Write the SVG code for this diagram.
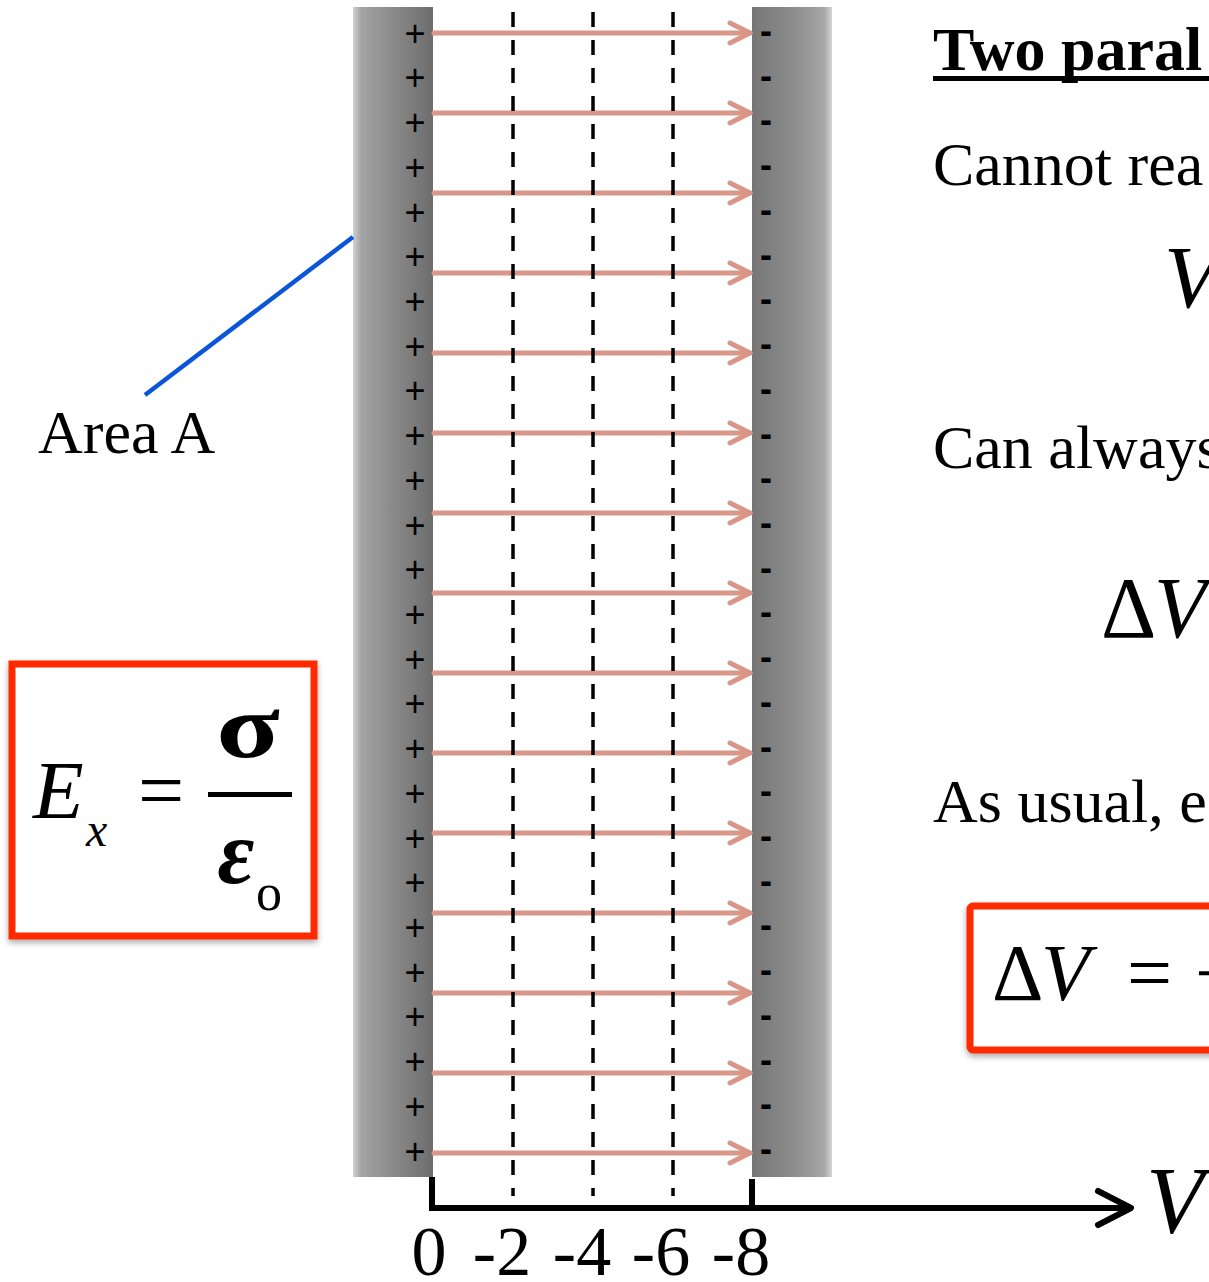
<svg xmlns="http://www.w3.org/2000/svg" width="1209" height="1282" viewBox="0 0 1209 1282">
<style>
  .serif { font-family: "Liberation Serif", "Times New Roman", serif; fill: #000; }
  .it { font-style: italic; }
  .body { font-size: 62px; }
  .plus { font-family: "Liberation Sans", Arial, sans-serif; font-size: 36px; text-anchor: middle; fill: #000; }
  .minus { font-family: "Liberation Sans", Arial, sans-serif; font-size: 36px; font-weight: bold; text-anchor: middle; fill: #000; }
  .field { stroke: #D9978A; stroke-width: 5; fill: none; stroke-linecap: round; }
  .equi { stroke: #000; stroke-width: 3.5; stroke-dasharray: 15 13; fill: none; }
  .redbox { fill: #fff; stroke: #FF2A00; stroke-width: 7; }
  .tick { font-family: "Liberation Serif", "Times New Roman", serif; font-size: 70px; text-anchor: middle; fill: #000; }
</style>
<defs>
  <linearGradient id="gLeft" x1="0" y1="0" x2="1" y2="0">
    <stop offset="0" stop-color="#d2d2d2"/>
    <stop offset="0.1" stop-color="#a4a4a4"/>
    <stop offset="0.5" stop-color="#8a8a8a"/>
    <stop offset="0.92" stop-color="#727272"/>
    <stop offset="1" stop-color="#6c6c6c"/>
  </linearGradient>
  <linearGradient id="gRight" x1="0" y1="0" x2="1" y2="0">
    <stop offset="0" stop-color="#747474"/>
    <stop offset="0.08" stop-color="#7a7a7a"/>
    <stop offset="0.5" stop-color="#8c8c8c"/>
    <stop offset="0.9" stop-color="#a6a6a6"/>
    <stop offset="1" stop-color="#d4d4d4"/>
  </linearGradient>
  <filter id="shadow" x="-10%" y="-10%" width="130%" height="130%">
    <feGaussianBlur in="SourceAlpha" stdDeviation="3"/>
    <feOffset dx="0" dy="3" result="b"/>
    <feComponentTransfer><feFuncA type="linear" slope="0.35"/></feComponentTransfer>
    <feMerge><feMergeNode/><feMergeNode in="SourceGraphic"/></feMerge>
  </filter>
  <marker id="chev" viewBox="-24 -13 28 26" refX="0" refY="0" markerWidth="28" markerHeight="26" markerUnits="userSpaceOnUse" orient="auto">
    <path d="M-20,-10 L0,0 L-20,10" fill="none" stroke="#D9978A" stroke-width="5" stroke-linecap="round" stroke-linejoin="round"/>
  </marker>
  <marker id="axisHead" viewBox="-40 -22 46 44" refX="0" refY="0" markerWidth="46" markerHeight="44" markerUnits="userSpaceOnUse" orient="auto">
    <path d="M-33,-17 L0,0 L-33,17" fill="none" stroke="#000" stroke-width="6" stroke-linecap="round" stroke-linejoin="round"/>
  </marker>
</defs>

<rect width="1209" height="1282" fill="#fff"/>

<!-- plates -->
<g id="plate-left">
  <rect x="353" y="7" width="80" height="1170" fill="url(#gLeft)"/>
  <text class="plus" x="415" y="45.6">+</text>
  <text class="plus" x="415" y="90.3">+</text>
  <text class="plus" x="415" y="135.0">+</text>
  <text class="plus" x="415" y="179.8">+</text>
  <text class="plus" x="415" y="224.5">+</text>
  <text class="plus" x="415" y="269.2">+</text>
  <text class="plus" x="415" y="313.9">+</text>
  <text class="plus" x="415" y="358.6">+</text>
  <text class="plus" x="415" y="403.4">+</text>
  <text class="plus" x="415" y="448.1">+</text>
  <text class="plus" x="415" y="492.8">+</text>
  <text class="plus" x="415" y="537.5">+</text>
  <text class="plus" x="415" y="582.2">+</text>
  <text class="plus" x="415" y="627.0">+</text>
  <text class="plus" x="415" y="671.7">+</text>
  <text class="plus" x="415" y="716.4">+</text>
  <text class="plus" x="415" y="761.1">+</text>
  <text class="plus" x="415" y="805.8">+</text>
  <text class="plus" x="415" y="850.6">+</text>
  <text class="plus" x="415" y="895.3">+</text>
  <text class="plus" x="415" y="940.0">+</text>
  <text class="plus" x="415" y="984.7">+</text>
  <text class="plus" x="415" y="1029.4">+</text>
  <text class="plus" x="415" y="1074.2">+</text>
  <text class="plus" x="415" y="1118.9">+</text>
  <text class="plus" x="415" y="1163.6">+</text>
</g>

<g id="plate-right">
  <rect x="752" y="7" width="80" height="1170" fill="url(#gRight)"/>
  <text class="minus" x="766" y="43.0">-</text>
  <text class="minus" x="766" y="87.7">-</text>
  <text class="minus" x="766" y="132.4">-</text>
  <text class="minus" x="766" y="177.2">-</text>
  <text class="minus" x="766" y="221.9">-</text>
  <text class="minus" x="766" y="266.6">-</text>
  <text class="minus" x="766" y="311.3">-</text>
  <text class="minus" x="766" y="356.0">-</text>
  <text class="minus" x="766" y="400.8">-</text>
  <text class="minus" x="766" y="445.5">-</text>
  <text class="minus" x="766" y="490.2">-</text>
  <text class="minus" x="766" y="534.9">-</text>
  <text class="minus" x="766" y="579.6">-</text>
  <text class="minus" x="766" y="624.4">-</text>
  <text class="minus" x="766" y="669.1">-</text>
  <text class="minus" x="766" y="713.8">-</text>
  <text class="minus" x="766" y="758.5">-</text>
  <text class="minus" x="766" y="803.2">-</text>
  <text class="minus" x="766" y="848.0">-</text>
  <text class="minus" x="766" y="892.7">-</text>
  <text class="minus" x="766" y="937.4">-</text>
  <text class="minus" x="766" y="982.1">-</text>
  <text class="minus" x="766" y="1026.8">-</text>
  <text class="minus" x="766" y="1071.6">-</text>
  <text class="minus" x="766" y="1116.3">-</text>
  <text class="minus" x="766" y="1161.0">-</text>
</g>

<!-- connectors: field lines, equipotentials, axis, leader -->
<g id="connectors">
  <g id="field-lines">
    <line class="field" x1="434" y1="33" x2="750" y2="33" marker-end="url(#chev)"/>
    <line class="field" x1="434" y1="113" x2="750" y2="113" marker-end="url(#chev)"/>
    <line class="field" x1="434" y1="193" x2="750" y2="193" marker-end="url(#chev)"/>
    <line class="field" x1="434" y1="273" x2="750" y2="273" marker-end="url(#chev)"/>
    <line class="field" x1="434" y1="353" x2="750" y2="353" marker-end="url(#chev)"/>
    <line class="field" x1="434" y1="433" x2="750" y2="433" marker-end="url(#chev)"/>
    <line class="field" x1="434" y1="513" x2="750" y2="513" marker-end="url(#chev)"/>
    <line class="field" x1="434" y1="593" x2="750" y2="593" marker-end="url(#chev)"/>
    <line class="field" x1="434" y1="673" x2="750" y2="673" marker-end="url(#chev)"/>
    <line class="field" x1="434" y1="753" x2="750" y2="753" marker-end="url(#chev)"/>
    <line class="field" x1="434" y1="833" x2="750" y2="833" marker-end="url(#chev)"/>
    <line class="field" x1="434" y1="913" x2="750" y2="913" marker-end="url(#chev)"/>
    <line class="field" x1="434" y1="993" x2="750" y2="993" marker-end="url(#chev)"/>
    <line class="field" x1="434" y1="1073" x2="750" y2="1073" marker-end="url(#chev)"/>
    <line class="field" x1="434" y1="1153" x2="750" y2="1153" marker-end="url(#chev)"/>
  </g>
  <g id="equipotentials">
    <line class="equi" x1="513" y1="12" x2="513" y2="1196"/>
    <line class="equi" x1="593" y1="12" x2="593" y2="1196"/>
    <line class="equi" x1="673" y1="12" x2="673" y2="1196"/>
  </g>
  <g id="axis">
    <path d="M432,1177 V1208 H1131" fill="none" stroke="#000" stroke-width="6" marker-end="url(#axisHead)"/>
    <line x1="752" y1="1179" x2="752" y2="1208" stroke="#000" stroke-width="6"/>
  </g>
  <line id="leader" x1="353" y1="237" x2="145" y2="395" stroke="#0B55D9" stroke-width="4.5"/>
</g>

<!-- axis labels -->
<g id="axis-labels">
  <text class="tick" x="429" y="1275">0</text>
  <text class="tick" x="502" y="1275">-2</text>
  <text class="tick" x="582" y="1275">-4</text>
  <text class="tick" x="661" y="1275">-6</text>
  <text class="tick" x="741" y="1275">-8</text>
  <text class="serif it" x="1146" y="1233" font-size="95">V</text>
</g>

<g id="area-label">
  <text class="serif body" x="38" y="453">Area A</text>
</g>

<!-- E field formula box -->
<g id="formula-E" filter="url(#shadow)">
  <rect class="redbox" x="12" y="664" width="302" height="272"/>
</g>
<g id="formula-E-text">
  <text class="serif it" x="33" y="818" font-size="83">E</text>
  <text class="serif it" x="86" y="846" font-size="48">x</text>
  <text class="serif" x="138" y="818" font-size="82">=</text>
  <rect x="208" y="792" width="84" height="5" fill="#000"/>
  <text class="serif" font-size="90" font-weight="bold" text-anchor="middle" transform="translate(248,757) scale(1.3,1)">σ</text>
  <text class="serif it" x="236" y="883" font-size="90" font-weight="bold" text-anchor="middle">ε</text>
  <text class="serif" x="256" y="910" font-size="52">o</text>
</g>

<!-- right-hand text -->
<g id="title">
  <text class="serif body" x="933" y="70" font-weight="bold">Two paral</text>
  <rect x="933" y="76" width="276" height="5" fill="#000"/>
</g>
<g id="text-cannot">
  <text class="serif body" x="933" y="185">Cannot rea</text>
</g>
<g id="eq-V">
  <text class="serif it" x="1164" y="307" font-size="89">V</text>
</g>
<g id="text-can">
  <text class="serif body" x="933" y="468">Can always</text>
</g>
<g id="eq-dV">
  <text class="serif" x="1101" y="637" font-size="86">Δ</text>
  <text class="serif it" x="1154" y="637" font-size="86">V</text>
</g>
<g id="text-usual">
  <text class="serif body" x="933" y="822">As usual, e</text>
</g>
<g id="formula-dV" filter="url(#shadow)">
  <rect class="redbox" x="970" y="906" width="300" height="144" rx="3"/>
</g>
<g id="formula-dV-text">
  <text class="serif" x="992" y="1000" font-size="80">Δ</text>
  <text class="serif it" x="1041" y="1000" font-size="80">V</text>
  <text class="serif" x="1127" y="1000" font-size="80">=</text>
  <text class="serif" x="1195" y="1000" font-size="80">−</text>
</g>
</svg>
